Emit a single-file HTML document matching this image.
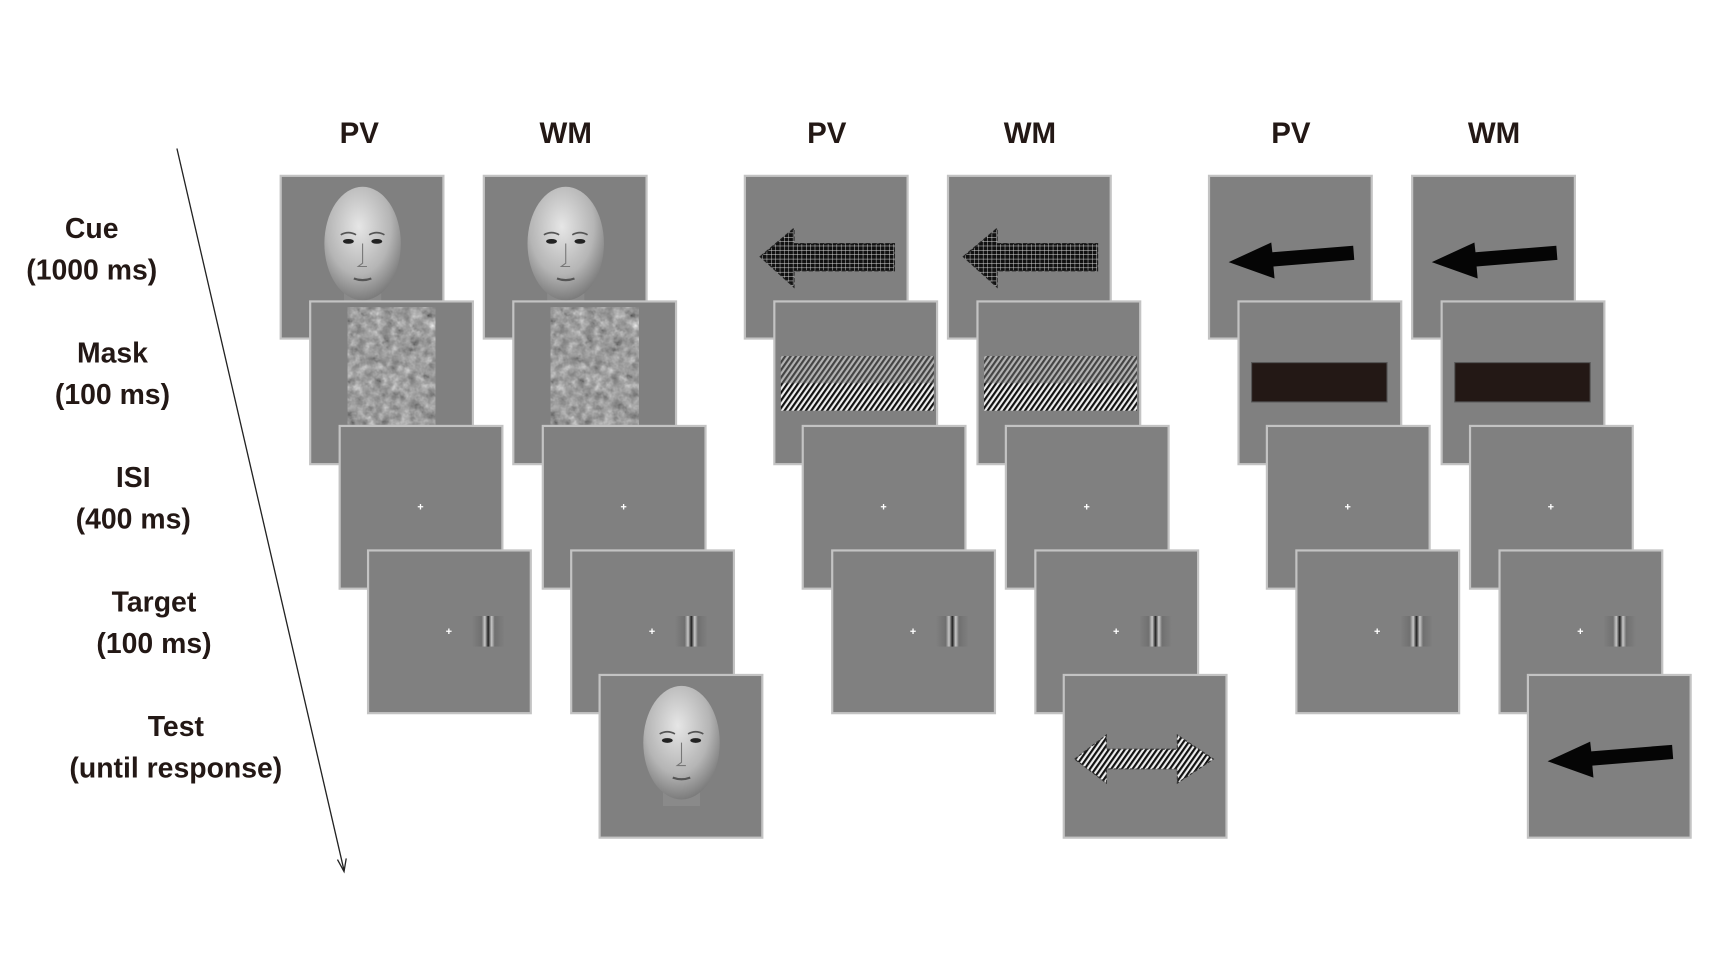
<!DOCTYPE html>
<html><head><meta charset="utf-8"><style>
html,body{margin:0;padding:0;background:#fff;}
svg{display:block;}
text{font-family:"Liberation Sans",sans-serif;font-weight:bold;fill:#231815;}
</style></head><body>
<svg width="1712" height="960" viewBox="0 0 1567 879" preserveAspectRatio="xMinYMin meet" xmlns="http://www.w3.org/2000/svg">
<defs>
<radialGradient id="skin" cx="0.45" cy="0.35" r="0.7">
<stop offset="0" stop-color="#e6e6e6"/><stop offset="0.6" stop-color="#b5b5b5"/><stop offset="1" stop-color="#707070"/></radialGradient>
<pattern id="grid" width="4" height="4" patternUnits="userSpaceOnUse">
<rect width="4" height="4" fill="#111"/><path d="M0 0H4M0 0V4" stroke="#ddd" stroke-width="0.8"/></pattern>
<pattern id="diag" width="4" height="4" patternUnits="userSpaceOnUse" patternTransform="rotate(35)">
<rect width="4" height="4" fill="#eee"/><rect width="2" height="4" fill="#111"/></pattern>
<filter id="noise"><feTurbulence type="fractalNoise" baseFrequency="0.12" numOctaves="3" seed="4"/><feColorMatrix type="saturate" values="0"/><feComponentTransfer><feFuncR type="linear" slope="1.6" intercept="-0.3"/><feFuncG type="linear" slope="1.6" intercept="-0.3"/><feFuncB type="linear" slope="1.6" intercept="-0.3"/></feComponentTransfer></filter>
<linearGradient id="grat" x1="0" x2="1">
<stop offset="0" stop-color="#808080"/><stop offset="0.3" stop-color="#707070"/><stop offset="0.4" stop-color="#c8c8c8"/><stop offset="0.5" stop-color="#202020"/><stop offset="0.6" stop-color="#c8c8c8"/><stop offset="0.7" stop-color="#707070"/><stop offset="1" stop-color="#808080"/></linearGradient>
<g id="pnl"><rect x="0" y="0" width="149" height="149" fill="#808080" stroke="#c3c3c3" stroke-width="2"/></g>
<g id="face">
<rect x="58" y="80" width="34" height="40" fill="#8a8a8a"/>
<ellipse cx="75" cy="62" rx="35" ry="52" fill="url(#skin)"/>
<ellipse cx="62" cy="60" rx="5" ry="2.2" fill="#222"/><ellipse cx="88" cy="60" rx="5" ry="2.2" fill="#222"/>
<path d="M55 54 q7 -4 14 0 M81 54 q7 -4 14 0" stroke="#555" stroke-width="1.5" fill="none"/>
<path d="M75 62 v18 l-4 3 h8" stroke="#777" fill="none"/>
<path d="M67 94 q8 3 16 0" stroke="#555" stroke-width="2" fill="none"/>
</g>
<g id="cross"><path d="M71.5 74h5M74 71.5v5" stroke="#fff" stroke-width="1.2"/></g>
<g id="target"><use href="#cross"/><rect x="95" y="60" width="30" height="28" fill="url(#grat)"/></g>
<g id="mface"><use href="#pnl"/><rect x="41" y="17" width="67" height="115" fill="#999" filter="url(#noise)"/></g>
<g id="marrow"><use href="#pnl"/><rect x="6" y="50" width="140" height="50" fill="url(#diag)"/><rect x="6" y="50" width="140" height="25" fill="#777" opacity="0.5"/></g>
<g id="mbar"><use href="#pnl"/><rect x="12" y="56" width="124" height="36" fill="#231815" stroke="#555"/></g>
<g id="parrow"><path d="M14 74 L45 48 V62 H137 V87 H45 V102 Z" fill="url(#grid)" stroke="#222" stroke-dasharray="4 2"/></g>
<g id="barrow"><path d="M18 79 L57 61 L58 70 L132 64 L133 77 L59 83 L60 94 Z" fill="#050505"/></g>
<g id="darrow"><path d="M10 77 L39 55 V68 H104 V55 L137 77 L104 99 V86 H39 V99 Z" fill="url(#diag)" stroke="#333" stroke-dasharray="3 2"/></g>
</defs>

<text x="329" y="131" font-size="27" text-anchor="middle">PV</text>
<text x="518" y="131" font-size="27" text-anchor="middle">WM</text>
<text x="757" y="131" font-size="27" text-anchor="middle">PV</text>
<text x="943" y="131" font-size="27" text-anchor="middle">WM</text>
<text x="1182" y="131" font-size="27" text-anchor="middle">PV</text>
<text x="1368" y="131" font-size="27" text-anchor="middle">WM</text>

<g font-size="26" text-anchor="middle">
<text x="84" y="218">Cue</text><text x="84" y="256">(1000 ms)</text>
<text x="103" y="332">Mask</text><text x="103" y="370">(100 ms)</text>
<text x="122" y="446">ISI</text><text x="122" y="484">(400 ms)</text>
<text x="141" y="560">Target</text><text x="141" y="598">(100 ms)</text>
<text x="161" y="674">Test</text><text x="161" y="712">(until response)</text>
</g>

<line x1="162" y1="136" x2="315" y2="797" stroke="#222" stroke-width="1.2"/>
<path d="M309 787 L315 798 L317 786" fill="none" stroke="#222" stroke-width="1.2"/>

<g transform="translate(257,161)"><use href="#pnl"/><use href="#face"/></g>
<g transform="translate(284,276)"><use href="#mface"/></g>
<g transform="translate(311,390)"><use href="#pnl"/><use href="#cross"/></g>
<g transform="translate(337,504)"><use href="#pnl"/><use href="#target"/></g>
<g transform="translate(443,161)"><use href="#pnl"/><use href="#face"/></g>
<g transform="translate(470,276)"><use href="#mface"/></g>
<g transform="translate(497,390)"><use href="#pnl"/><use href="#cross"/></g>
<g transform="translate(523,504)"><use href="#pnl"/><use href="#target"/></g>
<g transform="translate(549,618)"><use href="#pnl"/><use href="#face"/></g>

<g transform="translate(682,161)"><use href="#pnl"/><use href="#parrow"/></g>
<g transform="translate(709,276)"><use href="#marrow"/></g>
<g transform="translate(735,390)"><use href="#pnl"/><use href="#cross"/></g>
<g transform="translate(762,504)"><use href="#pnl"/><use href="#target"/></g>
<g transform="translate(868,161)"><use href="#pnl"/><use href="#parrow"/></g>
<g transform="translate(895,276)"><use href="#marrow"/></g>
<g transform="translate(921,390)"><use href="#pnl"/><use href="#cross"/></g>
<g transform="translate(948,504)"><use href="#pnl"/><use href="#target"/></g>
<g transform="translate(974,618)"><use href="#pnl"/><use href="#darrow"/></g>

<g transform="translate(1107,161)"><use href="#pnl"/><use href="#barrow"/></g>
<g transform="translate(1134,276)"><use href="#mbar"/></g>
<g transform="translate(1160,390)"><use href="#pnl"/><use href="#cross"/></g>
<g transform="translate(1187,504)"><use href="#pnl"/><use href="#target"/></g>
<g transform="translate(1293,161)"><use href="#pnl"/><use href="#barrow"/></g>
<g transform="translate(1320,276)"><use href="#mbar"/></g>
<g transform="translate(1346,390)"><use href="#pnl"/><use href="#cross"/></g>
<g transform="translate(1373,504)"><use href="#pnl"/><use href="#target"/></g>
<g transform="translate(1399,618)"><use href="#pnl"/><use href="#barrow"/></g>
</svg>
</body></html>
